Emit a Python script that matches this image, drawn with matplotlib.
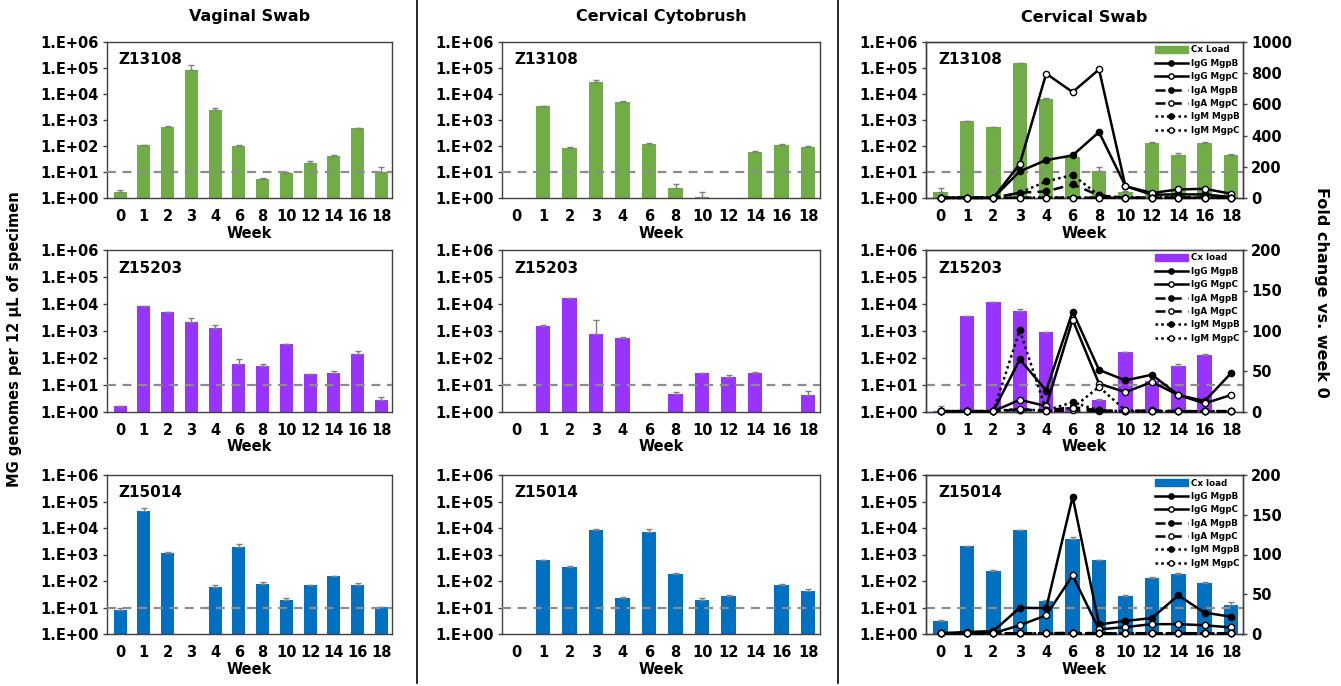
"""
MG genome load and antibody fold change by week, three macaques x three specimen types.
"""

import numpy as np
import matplotlib.pyplot as plt
from matplotlib.lines import Line2D
from matplotlib.patches import Patch
from matplotlib.ticker import FixedLocator, FuncFormatter, NullLocator

plt.rcParams["font.family"] = ["DejaVu Sans"]
plt.rcParams["font.weight"] = "bold"

nan = np.nan

weeks = ["0", "1", "2", "3", "4", "6", "8", "10", "12", "14", "16", "18"]
animals = ["Z13108", "Z15203", "Z15014"]
col_titles = ["Vaginal Swab", "Cervical Cytobrush", "Cervical Swab"]
load_labels = ["Cx Load", "Cx load", "Cx load"]

# vaginal swab loads (bar heights) and upper error
vag_z13108 = [1.7, 108, 550, 85000, 2400, 96, 5.2, 9, 23, 43, 485, 10.4]
vag_z13108_err = [0.3, 5, 20, 45000, 400, 12, 0.7, 1, 3, 2, 10, 4.6]
vag_z15203 = [1.6, 8200, 4900, 2150, 1280, 60, 51, 325, 24.5, 27, 144, 2.9]
vag_z15203_err = [0.05, 200, 150, 810, 380, 31, 11, 10, 0.8, 6, 38, 0.7]
vag_z15014 = [7.8, 44000, 1140, nan, 60, 2000, 79, 20, 68, 151, 72, 10.2]
vag_z15014_err = [1.9, 12000, 110, 0, 8, 600, 10, 2.6, 2, 5, 9, 0.6]

# cervical cytobrush
cyt_z13108 = [nan, 3400, 87, 30000, 5000, 120, 2.5, 1.13, nan, 60, 109, 94]
cyt_z13108_err = [0, 150, 8, 5000, 400, 16, 1.1, 0.64, 0, 7, 6, 3]
cyt_z15203 = [nan, 1580, 17000, 770, 560, nan, 4.5, 27, 20, 27, nan, 4.2]
cyt_z15203_err = [0, 70, 300, 1680, 50, 0, 1.1, 2, 2.7, 4, 0, 1.6]
cyt_z15014 = [nan, 600, 335, 8100, 22.7, 7000, 187, 19, 28, nan, 71, 41]
cyt_z15014_err = [0, 20, 30, 800, 2.3, 1900, 9, 4.5, 1, 0, 7, 9]

# cervical swab
cx_z13108 = [1.7, 930, 535, 155000, 6600, 39, 11.3, 1.7, 135, 47, 135, 47]
cx_z13108_err = [0.8, 20, 15, 5000, 200, 2, 4.7, 0.1, 8, 6, 5, 3]
cx_z15203 = [1.05, 3650, 11500, 5700, 910, 1.5, 2.9, 168, 14.5, 52, 131, nan]
cx_z15203_err = [0.55, 100, 200, 900, 20, 0.1, 0.1, 4, 0.5, 7, 5, 0]
cx_z15014 = [3.1, 2090, 245, 8400, 17.8, 3900, 630, 27.3, 134, 190, 87.6, 11.9]
cx_z15014_err = [0.3, 50, 8, 200, 2.2, 600, 10, 3.2, 3, 10, 2, 4]

# fold change vs. week 0 (right axis, cervical swab column)
z13108_igg_b = [1, 1, 1, 171, 243, 273, 423, 76, 21, 23, 23, 6]
z13108_igg_c = [1, 1, 1, 218, 797, 679, 824, 76, 32, 55, 59, 27]
z13108_iga_b = [1, 1, 1, 34, 42, 87, 17, 1, 3, 3, 3, 2]
z13108_iga_c = [1, 1, 1, 2, 2, 2, 2, 1, 1, 1, 1, 1]
z13108_igm_b = [1, 1, 1, 34, 106, 148, 17, 1, 3, 3, 3, 2]
z13108_igm_c = [1, 1, 1, 2, 3, 3, 2, 1, 1, 1, 1, 1]

z15203_igg_b = [1, 1, 1, 65, 26.5, 124, 52, 39, 46, 21, 13.5, 48]
z15203_igg_c = [1, 1, 1, 15, 7.3, 114, 35, 24.5, 37, 21, 10.6, 21]
z15203_iga_b = [1, 1, 1, 3, 2, 6, 2, 1, 2, 1, 1, 1]
z15203_iga_c = [1, 1, 1, 3, 1, 2, 1, 1, 1, 1, 1, 1]
z15203_igm_b = [1, 1, 1, 101, 2, 12, 2, 1, 1, 1, 1, 1]
z15203_igm_c = [1, 1, 1, 4, 1, 5, 31, 2, 1, 1, 1, 1]

z15014_igg_b = [1, 2.5, 3.7, 33, 32.5, 172.6, 12, 16.5, 20, 48.6, 26.8, 21.8]
z15014_igg_c = [1, 1, 1, 11, 23.5, 73.7, 5.8, 8.7, 12.4, 12.4, 11, 8.2]
z15014_iga_b = [1, 1, 1, 1, 1, 1.5, 1, 1, 1, 1, 1, 1]
z15014_iga_c = [1, 1, 1, 1, 1, 1, 1, 1, 1, 1, 1, 1]
z15014_igm_b = [1, 1, 1, 1, 1, 1, 1, 1, 1, 1, 1, 1]
z15014_igm_c = [1, 1, 1, 1, 1, 1, 1, 1, 1, 1, 1, 1]

fold_max = [1000, 200, 200]
fold_step = [200, 50, 50]

GREEN = "#70AD47"
PURPLE = "#9933FF"
BLUE = "#0070C0"
row_colors = [GREEN, PURPLE, BLUE]

loads = [
    [(vag_z13108, vag_z13108_err), (vag_z15203, vag_z15203_err), (vag_z15014, vag_z15014_err)],
    [(cyt_z13108, cyt_z13108_err), (cyt_z15203, cyt_z15203_err), (cyt_z15014, cyt_z15014_err)],
    [(cx_z13108, cx_z13108_err), (cx_z15203, cx_z15203_err), (cx_z15014, cx_z15014_err)],
]
folds = [
    [z13108_igg_b, z13108_igg_c, z13108_iga_b, z13108_iga_c, z13108_igm_b, z13108_igm_c],
    [z15203_igg_b, z15203_igg_c, z15203_iga_b, z15203_iga_c, z15203_igm_b, z15203_igm_c],
    [z15014_igg_b, z15014_igg_c, z15014_iga_b, z15014_iga_c, z15014_igm_b, z15014_igm_c],
]
fold_labels = ["IgG MgpB", "IgG MgpC", "IgA MgpB", "IgA MgpC", "IgM MgpB", "IgM MgpC"]
fold_styles = ["-", "-", (0, (4, 2.5)), (0, (4, 2.5)), (0, (1, 1.3)), (0, (1, 1.3))]
fold_faces = ["black", "white"] * 3

W, H = 1341, 686
col_px = [(107, 392), (502, 820), (926, 1243)]
row_px = [(42, 198), (250, 412), (475, 634)]
SPINE = "#404040"
FS = 10.5

fig = plt.figure(figsize=(W / 100, H / 100), dpi=100)


def decade_label(v, pos):
    return "1.E+%02d" % int(round(np.log10(v)))


for c in range(3):
    for r in range(3):
        x0, x1 = col_px[c]
        y0, y1 = row_px[r]
        ax = fig.add_axes([x0 / W, 1 - y1 / H, (x1 - x0) / W, (y1 - y0) / H])
        vals, errs = loads[c][r]
        v = np.array(vals, float)
        e = np.array(errs, float)
        x = np.arange(len(weeks))

        ax.set_yscale("log")
        ax.bar(x, v, width=0.55, color=row_colors[r], zorder=2)
        ax.errorbar(x, v, yerr=[np.zeros_like(e), e], fmt="none", ecolor="#808080",
                    elinewidth=1, capsize=2.5, capthick=1, zorder=3)
        ax.axhline(10, color="#8c8c8c", ls=(0, (4, 3)), lw=1.6, zorder=4)
        ax.set_ylim(1, 1e6)
        ax.set_xlim(-0.55, 11.45)
        ax.yaxis.set_major_locator(FixedLocator([10.0 ** k for k in range(7)]))
        ax.yaxis.set_minor_locator(NullLocator())
        ax.yaxis.set_major_formatter(FuncFormatter(decade_label))
        ax.set_xticks(x)
        ax.set_xticklabels(weeks)
        ax.tick_params(axis="x", length=0, pad=8, labelsize=FS)
        ax.tick_params(axis="y", length=3, width=1, pad=3, labelsize=FS, color=SPINE)
        ax.set_xlabel("Week", fontsize=FS, fontweight="bold", labelpad=1)
        for sp in ax.spines.values():
            sp.set_color(SPINE)
            sp.set_linewidth(1)
        ax.text(0.04, 0.935, animals[r], transform=ax.transAxes, fontsize=11,
                fontweight="bold", va="top", ha="left")

        if c == 2:
            ax2 = ax.twinx()
            handles = [Patch(color=row_colors[r], label=load_labels[r])]
            for k, series in enumerate(folds[r]):
                (ln,) = ax2.plot(x, series, color="black", lw=1.8, ls=fold_styles[k],
                                 marker="o", ms=4.5, mfc=fold_faces[k], mec="black",
                                 mew=1, clip_on=False, label=fold_labels[k], zorder=5)
                handles.append(ln)
            ax2.set_ylim(0, fold_max[r])
            ax2.set_yticks(np.arange(0, fold_max[r] + 1, fold_step[r]))
            ax2.tick_params(axis="y", length=3, width=1, pad=3, labelsize=FS, color=SPINE)
            for sp in ax2.spines.values():
                sp.set_color(SPINE)
                sp.set_linewidth(1)
            ax2.legend(handles=handles, loc="upper right", bbox_to_anchor=(1.0, 1.0),
                       frameon=False, fontsize=6.3, handlelength=3.8, handletextpad=0.3,
                       labelspacing=0.5, borderaxespad=0.2, borderpad=0.2,
                       markerscale=0.85)

for c in range(3):
    cx = (col_px[c][0] + col_px[c][1]) / 2 / W
    fig.text(cx, 1 - 17 / H, col_titles[c], ha="center", va="center",
             fontsize=11.5, fontweight="bold")

for xs in (417, 838):
    fig.add_artist(Line2D([xs / W, xs / W], [0.005, 1.0], color="black", lw=1.2,
                          transform=fig.transFigure))

fig.text(15 / W, 0.505, "MG genomes per 12 µL of specimen", rotation=90,
         ha="center", va="center", fontsize=10.5, fontweight="bold")
fig.text(1322 / W, 0.574, "Fold change vs. week 0", rotation=270,
         ha="center", va="center", fontsize=11.5, fontweight="bold")

fig.savefig("out.png", dpi=100)
